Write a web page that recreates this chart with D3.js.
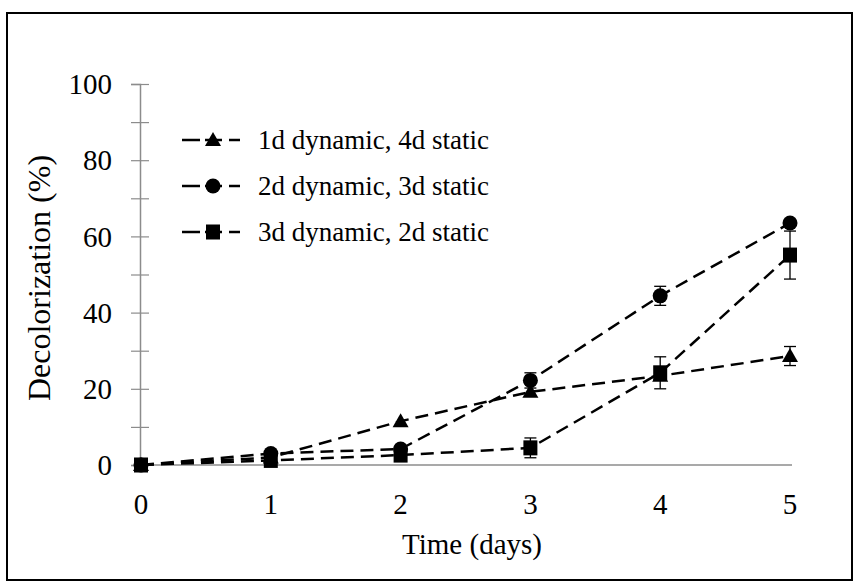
<!DOCTYPE html>
<html><head><meta charset="utf-8">
<script src="https://cdn.jsdelivr.net/npm/d3@7"></script>
<style>body{margin:0;background:#fff}svg{display:block}text{font-family:"Liberation Serif","Times New Roman",serif;fill:#000}</style>
</head><body><svg id="c" width="857" height="583"></svg>
<script>
const days = [0, 1, 2, 3, 4, 5];
const seriesNames = ["1d dynamic, 4d static", "2d dynamic, 3d static", "3d dynamic, 2d static"];
const triValues = [0, 2.0, 11.5, 19.2, 23.4, 28.6];
const triErr    = [0, 0.5, 0.8, 1.0, 1.0, 2.5];
const cirValues = [0, 3.0, 4.2, 22.2, 44.4, 63.5];
const cirErr    = [0, 0.5, 0.8, 2.0, 2.5, 1.0];
const sqrValues = [0, 1.2, 2.6, 4.5, 24.2, 55.1];
const sqrErr    = [0, 0.5, 0.6, 2.6, 4.2, 6.3];
const yTicks = [0, 20, 40, 60, 80, 100];
const yMinorTicks = [0, 10, 20, 30, 40, 50, 60, 70, 80, 90, 100];
const xLabel = "Time (days)";
const yLabel = "Decolorization (%)";

const svg = d3.select("#c");
svg.append("rect").attr("x", 7).attr("y", 13).attr("width", 845).attr("height", 567)
  .attr("fill", "none").attr("stroke", "#000").attr("stroke-width", 2);

const x = d3.scaleLinear().domain([0, 5]).range([141, 790]);
const y = d3.scaleLinear().domain([0, 100]).range([465, 84]);
const axisColor = "#8c8c8c";

// y axis
const yAxis = svg.append("g").attr("transform", `translate(${x(0) - 1},0)`)
  .call(d3.axisLeft(y).tickValues(yMinorTicks).tickSize(9).tickFormat(""));
yAxis.select(".domain").attr("stroke", axisColor).attr("stroke-width", 1.5);
yAxis.selectAll(".tick line").attr("stroke", axisColor).attr("stroke-width", 1.2).attr("x2", 9).attr("x1", -9);
svg.append("g").selectAll("text").data(yTicks).join("text")
  .attr("x", 112).attr("y", d => y(d)).attr("dy", "0.35em").attr("text-anchor", "end")
  .attr("font-size", 29).text(d => d);

// x axis
svg.append("line").attr("x1", x(0) - 1).attr("x2", 792).attr("y1", y(0)).attr("y2", y(0))
  .attr("stroke", axisColor).attr("stroke-width", 1.5);
svg.append("g").selectAll("text").data(days).join("text")
  .attr("x", d => x(d)).attr("y", 514).attr("text-anchor", "middle")
  .attr("font-size", 29).text(d => d);

svg.append("text").attr("x", 472).attr("y", 554).attr("text-anchor", "middle")
  .attr("font-size", 29).text(xLabel);
svg.append("text").attr("transform", "translate(50,278) rotate(-90)").attr("text-anchor", "middle")
  .attr("font-size", 32).text(yLabel);

const series = [
  {vals: triValues, err: triErr, shape: "tri"},
  {vals: cirValues, err: cirErr, shape: "cir"},
  {vals: sqrValues, err: sqrErr, shape: "sqr"}
];
const line = d3.line().x((d, i) => x(days[i])).y(d => y(d));

function marker(g, shape, cx, cy) {
  if (shape === "tri") {
    g.append("path").attr("d", `M${cx},${cy - 8}L${cx + 8},${cy + 6}L${cx - 8},${cy + 6}Z`).attr("fill", "#000");
  } else if (shape === "cir") {
    g.append("circle").attr("cx", cx).attr("cy", cy).attr("r", 7.5).attr("fill", "#000");
  } else {
    g.append("rect").attr("x", cx - 7).attr("y", cy - 7.5).attr("width", 14).attr("height", 15).attr("fill", "#000");
  }
}

const plot = svg.append("g");
series.forEach(s => {
  plot.append("path").datum(s.vals).attr("d", line).attr("fill", "none")
    .attr("stroke", "#000").attr("stroke-width", 2.5).attr("stroke-dasharray", "13,7");
});
series.forEach(s => {
  const g = plot.append("g");
  s.vals.forEach((v, i) => {
    const e = s.err[i];
    if (e > 1.2) {
      const cx = x(days[i]);
      g.append("line").attr("x1", cx).attr("x2", cx).attr("y1", y(v - e)).attr("y2", y(v + e)).attr("stroke", "#000").attr("stroke-width", 1.3);
      [v - e, v + e].forEach(t => g.append("line").attr("x1", cx - 6).attr("x2", cx + 6).attr("y1", y(t)).attr("y2", y(t)).attr("stroke", "#000").attr("stroke-width", 1.3));
    }
    marker(g, s.shape, x(days[i]), y(v));
  });
});

// legend
const legY = [140, 186, 232];
series.forEach((s, i) => {
  const g = svg.append("g");
  g.append("line").attr("x1", 182).attr("x2", 200).attr("y1", legY[i]).attr("y2", legY[i]).attr("stroke", "#000").attr("stroke-width", 2.5);
  g.append("line").attr("x1", 205).attr("x2", 222).attr("y1", legY[i]).attr("y2", legY[i]).attr("stroke", "#000").attr("stroke-width", 2.5);
  g.append("line").attr("x1", 229).attr("x2", 240).attr("y1", legY[i]).attr("y2", legY[i]).attr("stroke", "#000").attr("stroke-width", 2.5);
  marker(g, s.shape, 213, legY[i]);
  g.append("text").attr("x", 258).attr("y", legY[i]).attr("dy", "0.35em").attr("font-size", 27).text(seriesNames[i]);
});
</script></body></html>
